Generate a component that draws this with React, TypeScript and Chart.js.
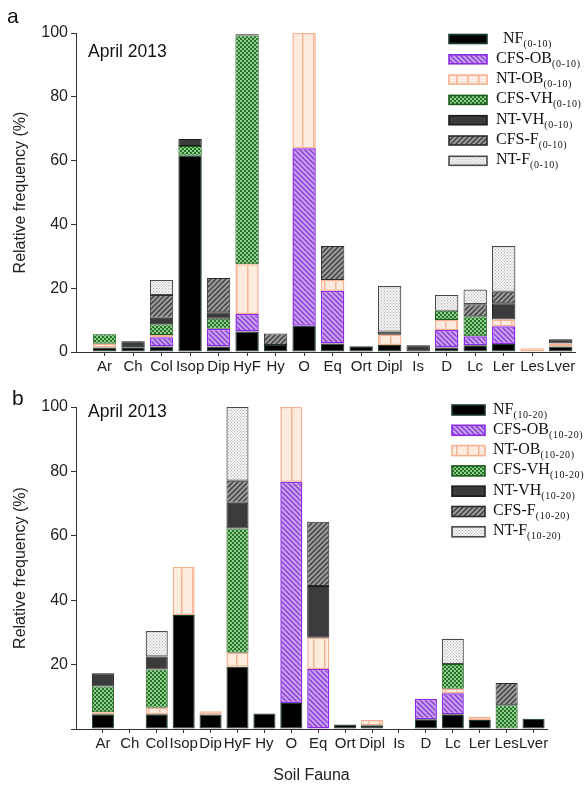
import React, { useEffect, useRef } from 'react';
import { Chart, registerables } from 'chart.js';

Chart.register(...registerables);

// ---------------- DATA ----------------
const CATEGORIES = ['Ar', 'Ch', 'Col', 'Isop', 'Dip', 'HyF', 'Hy', 'O', 'Eq', 'Ort', 'Dipl', 'Is', 'D', 'Lc', 'Ler', 'Les', 'Lver'];
const SERIES_NAMES = ['NF', 'CFS-OB', 'NT-OB', 'CFS-VH', 'NT-VH', 'CFS-F', 'NT-F'];
const Y_TICKS = [0, 20, 40, 60, 80, 100];
const DATE_LABEL = 'April 2013';
const Y_TITLE = 'Relative frequency (%)';
const X_TITLE = 'Soil Fauna';

// Panel a: depth 0-10
const DEPTH_A = '(0-10)';
const NF_A = [1.4, 1.5, 1.7, 61.5, 1.7, 6.4, 2.2, 8.2, 2.7, 1.8, 2.2, 0, 1.4, 2.1, 2.5, 0, 1.7];
const CFSOB_A = [0, 0, 2.9, 0, 5.6, 5.5, 0, 55.7, 16.5, 0, 0, 0, 5.5, 2.8, 5.6, 0, 0];
const NTOB_A = [1.2, 0, 0.7, 0, 0, 15.6, 0, 36.1, 3.4, 0, 3.2, 0, 3.1, 0, 2.1, 1.2, 1.0];
const CFSVH_A = [3.0, 0, 3.4, 3.1, 3.1, 71.7, 0, 0, 0, 0, 0, 0, 2.9, 6.3, 0, 0, 0];
const NTVH_A = [0, 1.9, 2.0, 2.2, 2.1, 0.4, 0, 0, 0, 0, 1.0, 2.1, 0, 0, 5.1, 0, 1.3];
const CFSF_A = [0, 0, 7.2, 0, 10.7, 0, 3.6, 0, 10.6, 0, 0, 0, 0, 3.8, 3.6, 0, 0];
const NTF_A = [0, 0, 4.7, 0, 0, 0, 0, 0, 0, 0, 14.3, 0, 5.0, 4.6, 14.3, 0, 0];

// Panel b: depth 10-20
const DEPTH_B = '(10-20)';
const NF_B = [4.6, 0, 4.6, 35.4, 4.5, 19.3, 4.8, 8.1, 0, 1.4, 1.2, 0, 3.0, 4.6, 2.8, 0, 3.2];
const CFSOB_B = [0, 0, 0, 0, 0, 0, 0, 68.7, 18.6, 0, 0, 0, 6.4, 6.5, 0, 0, 0];
const NTOB_B = [0.6, 0, 2.0, 15.0, 1.0, 4.4, 0, 23.2, 9.7, 0, 1.6, 0, 0, 1.4, 1.0, 0, 0];
const CFSVH_B = [8.0, 0, 11.9, 0, 0, 38.6, 0, 0, 0, 0, 0, 0, 0, 7.7, 0, 7.4, 0];
const NTVH_B = [4.1, 0, 4.0, 0, 0, 8.0, 0, 0, 16.1, 0, 0, 0, 0, 0, 0, 0, 0];
const CFSF_B = [0, 0, 0, 0, 0, 6.8, 0, 0, 20.0, 0, 0, 0, 0, 0, 0, 6.9, 0];
const NTF_B = [0, 0, 7.9, 0, 0, 22.9, 0, 0, 0, 0, 0, 0, 0, 7.8, 0, 0, 0];

// ---------------- STYLES ----------------
function pattern(w: number, h: number, draw: (g: CanvasRenderingContext2D) => void) {
  const c = document.createElement('canvas');
  c.width = w;
  c.height = h;
  const g = c.getContext('2d') as CanvasRenderingContext2D;
  draw(g);
  return g.createPattern(c, 'repeat') as CanvasPattern;
}

function makeStyles() {
  const purple = pattern(5, 5, (g) => {
    g.fillStyle = '#c9a3f0';
    g.fillRect(0, 0, 5, 5);
    g.strokeStyle = '#8a3fd8';
    g.lineWidth = 1.5;
    g.beginPath();
    g.moveTo(-1, -1); g.lineTo(6, 6);
    g.moveTo(4, -1); g.lineTo(6, 1);
    g.moveTo(-1, 4); g.lineTo(1, 6);
    g.stroke();
  });
  const peach = pattern(11, 4, (g) => {
    g.fillStyle = '#fdebdd';
    g.fillRect(0, 0, 11, 4);
    g.fillStyle = '#f4b698';
    g.fillRect(5, 0, 1.5, 4);
  });
  const green = pattern(4, 4, (g) => {
    g.fillStyle = '#267228';
    g.fillRect(0, 0, 4, 4);
    g.fillStyle = '#8fcf8b';
    g.fillRect(0, 0, 2, 2);
    g.fillRect(2, 2, 2, 2);
  });
  const grayHatch = pattern(5, 5, (g) => {
    g.fillStyle = '#9c9c9c';
    g.fillRect(0, 0, 5, 5);
    g.strokeStyle = '#3d3d3d';
    g.lineWidth = 1.4;
    g.beginPath();
    g.moveTo(-1, 6); g.lineTo(6, -1);
    g.moveTo(-1, 1); g.lineTo(1, -1);
    g.moveTo(4, 6); g.lineTo(6, 4);
    g.stroke();
  });
  const dots = pattern(3, 3, (g) => {
    g.fillStyle = '#f3f3f3';
    g.fillRect(0, 0, 3, 3);
    g.fillStyle = '#b8b8b8';
    g.fillRect(0, 0, 1, 1);
    g.fillRect(1.5, 1.5, 1, 1);
  });
  return [
    { bg: '#000000', border: '#1c3e2c', bw: 1 },
    { bg: purple, border: '#8a2be2', bw: 1.5 },
    { bg: peach, border: '#f5b194', bw: 1.5 },
    { bg: green, border: '#1c5a1e', bw: 1 },
    { bg: '#3b3b3b', border: '#1a1a1a', bw: 1 },
    { bg: grayHatch, border: '#2c2c2c', bw: 1 },
    { bg: dots, border: '#4a4a4a', bw: 1.2 },
  ];
}

const FONT_SANS = '"Liberation Sans", Arial, sans-serif';
const FONT_SERIF = '"Liberation Serif", "Times New Roman", serif';

const overlayPlugin = {
  id: 'overlay',
  afterDraw(chart: any, _args: any, o: any) {
    const ctx = chart.ctx as CanvasRenderingContext2D;
    ctx.save();
    ctx.textBaseline = 'alphabetic';
    ctx.textAlign = 'left';
    ctx.fillStyle = '#111';
    ctx.font = `21px ${FONT_SANS}`;
    ctx.fillText(o.letter, o.letterX, o.letterY);
    ctx.font = `17.5px ${FONT_SANS}`;
    ctx.fillText(DATE_LABEL, o.dateX, o.dateY);
    o.styles.forEach((st: any, i: number) => {
      const y = o.legY + i * o.legStep;
      ctx.fillStyle = st.bg;
      ctx.fillRect(o.boxX, y - o.boxH / 2, o.boxW, o.boxH);
      ctx.strokeStyle = st.border;
      ctx.lineWidth = 1.6;
      ctx.strokeRect(o.boxX, y - o.boxH / 2, o.boxW, o.boxH);
      const tx = i === 0 ? o.textX + o.firstIndent : o.textX;
      ctx.fillStyle = '#111';
      ctx.font = `16px ${FONT_SERIF}`;
      const name = SERIES_NAMES[i];
      ctx.fillText(name, tx, y + 3.5);
      const nw = ctx.measureText(name).width;
      ctx.font = `10px ${FONT_SERIF}`;
      (ctx as any).letterSpacing = '0.6px';
      ctx.fillText(o.depth, tx + nw, y + 7.5);
      (ctx as any).letterSpacing = '0px';
    });
    ctx.restore();
  },
};

function buildChart(canvas: HTMLCanvasElement, p: any) {
  const styles = makeStyles();
  const datasets = p.series.map((arr: number[], si: number) => ({
    label: SERIES_NAMES[si] + p.depth,
    data: arr.map((v, i) => ({ x: i, y: v === 0 ? null : v })),
    backgroundColor: styles[si].bg,
    borderColor: styles[si].border,
    borderWidth: styles[si].bw,
    borderSkipped: false,
    categoryPercentage: 1,
    barPercentage: 0.82,
  }));
  return new Chart(canvas, {
    type: 'bar',
    data: { datasets },
    plugins: [overlayPlugin],
    options: {
      animation: false,
      responsive: false,
      devicePixelRatio: 1,
      layout: { padding: { top: p.padTop, right: p.padRight, left: 0, bottom: 0 } },
      plugins: {
        legend: { display: false },
        tooltip: { enabled: false },
        overlay: { ...p.overlay, styles, depth: p.depth },
      } as any,
      scales: {
        x: {
          type: 'linear',
          stacked: true,
          offset: false,
          min: -1,
          max: 16.5,
          afterBuildTicks: (s: any) => {
            s.ticks = CATEGORIES.map((_, i) => ({ value: i }));
          },
          afterFit: (s: any) => {
            s.height = p.xHeight;
          },
          ticks: {
            autoSkip: false,
            maxRotation: 0,
            minRotation: 0,
            padding: 2,
            color: '#222',
            font: { family: FONT_SANS, size: 15 },
            callback: (v: any) => CATEGORIES[v] ?? '',
          },
          grid: { offset: false, drawOnChartArea: false, drawTicks: true, tickLength: 4, color: '#333' },
          border: { display: true, color: '#333', width: 1 },
          title: p.xTitle
            ? { display: true, text: X_TITLE, color: '#222', font: { family: FONT_SANS, size: 16 }, padding: { top: 0, bottom: 2 } }
            : { display: false },
        },
        y: {
          stacked: true,
          min: 0,
          max: 100,
          afterBuildTicks: (s: any) => {
            s.ticks = Y_TICKS.map((v) => ({ value: v }));
          },
          afterFit: (s: any) => {
            s.width = 76;
          },
          ticks: {
            padding: 3,
            color: '#222',
            font: { family: FONT_SANS, size: 16 },
            callback: (v: any) => (p.hideZero && v === 0 ? '' : String(v)),
          },
          grid: { drawOnChartArea: false, drawTicks: true, tickLength: 5, color: '#333' },
          border: { display: true, color: '#333', width: 1 },
          title: { display: true, text: Y_TITLE, color: '#222', font: { family: FONT_SANS, size: 16 }, padding: { top: 11, bottom: 0 } },
        },
      },
    } as any,
  });
}

export default function App() {
  const refA = useRef<HTMLCanvasElement>(null);
  const refB = useRef<HTMLCanvasElement>(null);

  useEffect(() => {
    const a = buildChart(refA.current as HTMLCanvasElement, {
      depth: DEPTH_A,
      series: [NF_A, CFSOB_A, NTOB_A, CFSVH_A, NTVH_A, CFSF_A, NTF_A],
      padTop: 33,
      padRight: 13,
      xHeight: 28,
      xTitle: false,
      hideZero: false,
      overlay: {
        letter: 'a', letterX: 7, letterY: 23,
        dateX: 88, dateY: 57,
        boxX: 449, boxW: 38, boxH: 9, legY: 39, legStep: 20.3,
        textX: 496, firstIndent: 7,
      },
    });
    const b = buildChart(refB.current as HTMLCanvasElement, {
      depth: DEPTH_B,
      series: [NF_B, CFSOB_B, NTOB_B, CFSVH_B, NTVH_B, CFSF_B, NTF_B],
      padTop: 27,
      padRight: 41,
      xHeight: 58,
      xTitle: true,
      hideZero: true,
      overlay: {
        letter: 'b', letterX: 12, letterY: 25,
        dateX: 88, dateY: 37,
        boxX: 452, boxW: 33, boxH: 10, legY: 30, legStep: 20.3,
        textX: 493, firstIndent: 0,
      },
    });
    return () => {
      a.destroy();
      b.destroy();
    };
  }, []);

  return (
    <div style={{ position: 'absolute', left: 0, top: 0, width: 588, height: 787, background: '#fff' }}>
      <canvas ref={refA} width={588} height={380} style={{ position: 'absolute', left: 0, top: 0 }} />
      <canvas ref={refB} width={588} height={407} style={{ position: 'absolute', left: 0, top: 380 }} />
    </div>
  );
}
